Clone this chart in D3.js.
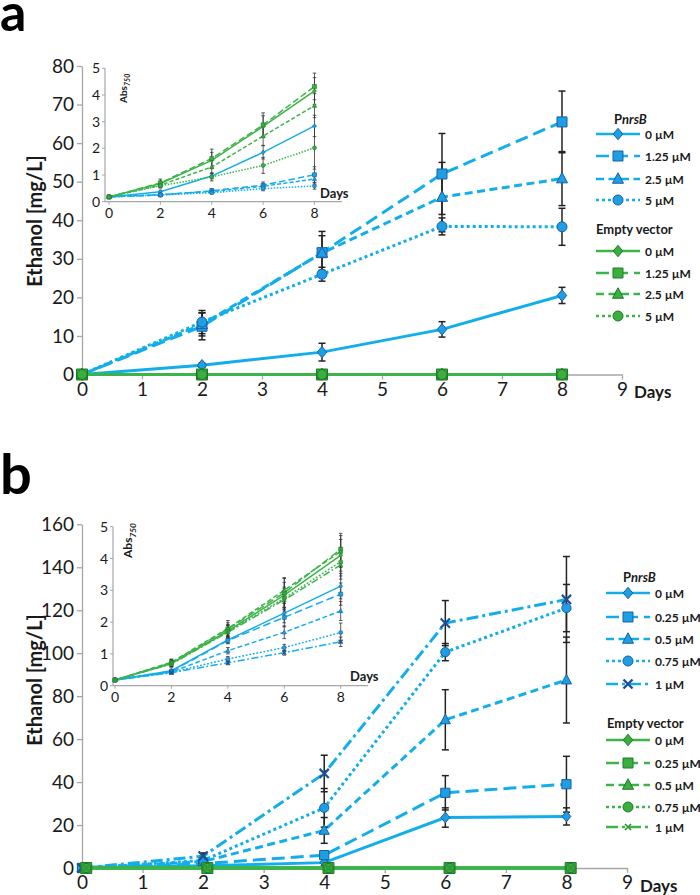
<!DOCTYPE html>
<html><head><meta charset="utf-8">
<script src="https://cdn.jsdelivr.net/npm/d3@7"></script>
<style>body{margin:0;background:#fff;} svg{display:block;font-family:Lato,'Open Sans',sans-serif;}</style>
</head><body><svg id="c" width="700" height="895"></svg>
<script>
// ---------------- DATA ----------------
const days = [0, 2, 4, 6, 8];
const daysEmptyB = [0.07, 2.07, 4.07, 6.07, 8.07];
const xTicksMain = [0, 1, 2, 3, 4, 5, 6, 7, 8, 9];
const xTicksInset = [0, 2, 4, 6, 8];
const yTicksA = [0, 10, 20, 30, 40, 50, 60, 70, 80];
const yTicksB = [0, 20, 40, 60, 80, 100, 120, 140, 160];
const yTicksInset = [0, 1, 2, 3, 4, 5];
const concA = ["0 µM", "1.25 µM", "2.5 µM", "5 µM"];
const concB = ["0 µM", "0.25 µM", "0.5 µM", "0.75 µM", "1 µM"];

// Panel a – ethanol (mg/L)
const ethA_PnrsB = [
  [0, 2.4, 5.8, 11.7, 20.5],
  [0, 12.5, 31.6, 52.0, 65.5],
  [0, 13.0, 31.5, 46.0, 50.8],
  [0, 13.6, 26.0, 38.4, 38.3]
];
const ethA_PnrsB_err = [
  [0, 0.5, 2.3, 2.0, 2.1],
  [0, 3.5, 5.5, 10.5, 8.0],
  [0, 3.0, 4.5, 9.0, 7.0],
  [0, 3.0, 1.8, 2.2, 4.8]
];
const ethA_Empty = [
  [0, 0, 0, 0, 0], [0, 0, 0, 0, 0], [0, 0, 0, 0, 0], [0, 0, 0, 0, 0]
];
// Panel a inset – Abs750
const absA_PnrsB = [
  [0.18, 0.37, 0.96, 1.85, 2.84],
  [0.18, 0.25, 0.41, 0.62, 1.01],
  [0.18, 0.27, 0.38, 0.58, 0.85],
  [0.18, 0.25, 0.34, 0.49, 0.59]
];
const absA_PnrsB_err = [
  [0.03, 0.06, 0.1, 0.25, 0.4],
  [0.03, 0.05, 0.08, 0.12, 0.3],
  [0.03, 0.04, 0.07, 0.1, 0.2],
  [0.03, 0.04, 0.05, 0.08, 0.12]
];
const absA_Empty = [
  [0.18, 0.68, 1.55, 2.82, 4.15],
  [0.18, 0.70, 1.62, 2.88, 4.32],
  [0.18, 0.62, 1.30, 2.46, 3.60],
  [0.18, 0.60, 0.93, 1.36, 2.02]
];
const absA_Empty_err = [
  [0.03, 0.1, 0.3, 0.4, 0.5],
  [0.03, 0.15, 0.35, 0.45, 0.5],
  [0.03, 0.1, 0.25, 0.35, 0.45],
  [0.03, 0.08, 0.15, 0.3, 0.8]
];

// Panel b – ethanol (mg/L)
const ethB_PnrsB = [
  [0, 1.0, 2.5, 23.5, 24.0],
  [0, 2.0, 6.0, 35.0, 39.0],
  [0, 3.0, 17.5, 69.0, 87.5],
  [0, 3.5, 28.0, 100.5, 121.0],
  [0, 5.5, 44.0, 114.0, 125.0]
];
const ethB_PnrsB_err = [
  [0, 0.5, 1.5, 4.5, 4.0],
  [0, 1.0, 2.0, 8.0, 13.0],
  [0, 1.0, 6.0, 14.0, 20.0],
  [0, 1.0, 9.0, 4.0, 11.0],
  [0, 1.5, 8.5, 10.5, 20.0]
];
const ethB_Empty = [
  [0, 0, 0, 0, 0], [0, 0, 0, 0, 0], [0, 0, 0, 0, 0], [0, 0, 0, 0, 0], [0, 0, 0, 0, 0]
];
// Panel b inset – Abs750
const absB_PnrsB = [
  [0.18, 0.47, 1.44, 2.28, 3.13],
  [0.18, 0.45, 1.42, 2.15, 2.88],
  [0.18, 0.43, 1.10, 1.68, 2.35],
  [0.18, 0.42, 0.84, 1.20, 1.67],
  [0.18, 0.41, 0.72, 1.04, 1.38]
];
const absB_PnrsB_err = [
  [0.03, 0.05, 0.1, 0.3, 0.4],
  [0.03, 0.05, 0.1, 0.3, 0.35],
  [0.03, 0.05, 0.1, 0.2, 0.3],
  [0.03, 0.04, 0.08, 0.1, 0.3],
  [0.03, 0.04, 0.06, 0.08, 0.15]
];
const absB_Empty = [
  [0.18, 0.70, 1.72, 2.85, 4.10],
  [0.18, 0.72, 1.78, 2.92, 4.29],
  [0.18, 0.74, 1.80, 3.00, 4.22],
  [0.18, 0.70, 1.70, 2.75, 3.90],
  [0.18, 0.68, 1.68, 2.70, 3.80]
];
const absB_Empty_err = [
  [0.03, 0.1, 0.2, 0.4, 0.5],
  [0.03, 0.1, 0.2, 0.45, 0.5],
  [0.03, 0.1, 0.25, 0.4, 0.5],
  [0.03, 0.1, 0.2, 0.35, 0.45],
  [0.03, 0.1, 0.2, 0.35, 0.45]
];

// ---------------- STYLE ----------------
const BLUE = {line: "#13aeea", fill: "#1e9fe3", stroke: "#1b5fa6", x: "#1d4f96"};
const GREEN = {line: "#3cb44a", fill: "#3aaf40", stroke: "#1f7a28", x: "#2e9a37"};
const dashes = ["", "13,6", "8,4.5", "3,3", "12,4,3,4"];
const shapes = ["diamond", "square", "triangle", "circle", "x"];
const AXIS = "#a6a6a6";
const TXT = "#1a1a1a";

function shapePath(shape, r) {
  switch (shape) {
    case "diamond": return `M0,${-r*1.15}L${r*0.95},0L0,${r*1.15}L${-r*0.95},0Z`;
    case "square": return `M${-r},${-r}H${r}V${r}H${-r}Z`;
    case "triangle": return `M0,${-r*1.25}L${r*1.1},${r*0.85}L${-r*1.1},${r*0.85}Z`;
    case "circle": return `M${r},0A${r},${r} 0 1,1 ${-r},0A${r},${r} 0 1,1 ${r},0Z`;
    case "x": return `M${-r},${-r}L${r},${r}M${r},${-r}L${-r},${r}`;
  }
}
function marker(g, shape, cx, cy, r, pal, sw) {
  const p = g.append("path").attr("d", shapePath(shape, r)).attr("transform", `translate(${cx},${cy})`);
  if (shape === "x") p.attr("fill", "none").attr("stroke", pal.x).attr("stroke-width", sw * 2.2);
  else p.attr("fill", pal.fill).attr("stroke", pal.stroke).attr("stroke-width", sw);
}

const svg = d3.select("#c");

function drawLines(g, sx, sy, xs, vals, pal, dash, lw) {
  const line = d3.line().x((d, i) => sx(xs[i])).y(d => sy(d));
  g.append("path").attr("d", line(vals)).attr("fill", "none")
    .attr("stroke", pal.line).attr("stroke-width", lw).attr("stroke-dasharray", dash || null);
}
function drawErr(g, sx, sy, xs, vals, errs, col, lw, cap) {
  vals.forEach((v, i) => {
    const e = errs[i];
    if (!e) return;
    const x = sx(xs[i]), y1 = sy(v - e), y2 = sy(v + e);
    g.append("line").attr("x1", x).attr("x2", x).attr("y1", y1).attr("y2", y2).attr("stroke", col).attr("stroke-width", lw);
    [y1, y2].forEach(y => g.append("line").attr("x1", x - cap).attr("x2", x + cap).attr("y1", y).attr("y2", y).attr("stroke", col).attr("stroke-width", lw));
  });
}
function drawMarkers(g, sx, sy, xs, vals, shape, r, pal, sw) {
  vals.forEach((v, i) => marker(g, shape, sx(xs[i]), sy(v), r, pal, sw));
}

function mainAxes(g, sx, sy, yTicks, xDomainMax, daysX, daysY) {
  const ya = g.append("g").attr("transform", `translate(${sx(0)},0)`).call(d3.axisLeft(sy).tickValues(yTicks).tickSize(5).tickPadding(3).tickSizeOuter(0));
  ya.select(".domain").attr("stroke", AXIS).attr("stroke-width", 1.3);
  ya.selectAll(".tick line").attr("stroke", AXIS).attr("stroke-width", 1.3);
  ya.selectAll("text").attr("font-size", 19).attr("fill", TXT).attr("font-family", "Lato");
  const xa = g.append("g").attr("transform", `translate(0,${sy(0)})`).call(d3.axisBottom(sx).tickValues(xTicksMain).tickSize(5).tickPadding(3).tickSizeOuter(0));
  xa.select(".domain").attr("stroke", AXIS).attr("stroke-width", 1.3);
  xa.selectAll(".tick line").attr("stroke", AXIS).attr("stroke-width", 1.3);
  xa.selectAll("text").attr("font-size", 19).attr("fill", TXT).attr("font-family", "Lato");
  g.append("text").attr("x", daysX).attr("y", daysY).text("Days").attr("font-size", 17).attr("font-weight", 700).attr("fill", TXT);
}

function insetAxes(g, sx, sy, axisX, axisEnd, daysX, daysY, absX, absY, absSize) {
  g.append("line").attr("x1", axisX).attr("x2", axisX).attr("y1", sy(0)).attr("y2", sy(5)).attr("stroke", AXIS).attr("stroke-width", 1.2);
  g.append("line").attr("x1", axisX).attr("x2", axisEnd).attr("y1", sy(0)).attr("y2", sy(0)).attr("stroke", AXIS).attr("stroke-width", 1.2);
  yTicksInset.forEach(t => {
    g.append("line").attr("x1", axisX - 3).attr("x2", axisX).attr("y1", sy(t)).attr("y2", sy(t)).attr("stroke", AXIS).attr("stroke-width", 1);
    g.append("text").attr("x", axisX - 5).attr("y", sy(t) + 5).attr("text-anchor", "end").text(t).attr("font-size", 14).attr("fill", TXT);
  });
  xTicksInset.forEach(t => {
    g.append("line").attr("x1", sx(t)).attr("x2", sx(t)).attr("y1", sy(0)).attr("y2", sy(0) + 3).attr("stroke", AXIS).attr("stroke-width", 1);
    g.append("text").attr("x", sx(t)).attr("y", sy(0) + 16).attr("text-anchor", "middle").text(t).attr("font-size", 14).attr("fill", TXT);
  });
  g.append("text").attr("x", daysX).attr("y", daysY).text("Days").attr("font-size", 13).attr("font-weight", 700).attr("fill", TXT);
  const t = g.append("text").attr("transform", `translate(${absX},${absY}) rotate(-90)`).attr("font-weight", 700).attr("fill", TXT).attr("font-size", absSize);
  t.append("tspan").text("Abs");
  t.append("tspan").text("750").attr("font-size", absSize * 0.7).attr("font-style", "italic").attr("dy", absSize * 0.3);
}

function yTitle(x, y) {
  svg.append("text").attr("transform", `translate(${x},${y}) rotate(-90)`).attr("text-anchor", "middle")
    .text("Ethanol [mg/L]").attr("font-size", 20).attr("font-weight", 700).attr("fill", TXT);
}

function legend(g, titleY, rowsP, evTitleY, rowsE, conc, lineX1, lineX2, mX, textX, titleX, evX) {
  const t = g.append("text").attr("x", titleX).attr("y", titleY).attr("font-size", 13).attr("font-weight", 700).attr("fill", TXT);
  t.append("tspan").text("P");
  t.append("tspan").text("nrsB").attr("font-style", "italic");
  g.append("text").attr("x", evX).attr("y", evTitleY).text("Empty vector").attr("font-size", 13).attr("font-weight", 700).attr("fill", TXT);
  [[rowsP, BLUE], [rowsE, GREEN]].forEach(([rows, pal]) => {
    rows.forEach((y, i) => {
      g.append("line").attr("x1", lineX1).attr("x2", lineX2).attr("y1", y).attr("y2", y)
        .attr("stroke", pal.line).attr("stroke-width", 2.6).attr("stroke-dasharray", dashes[i] || null);
      const isX = shapes[i] === "x";
      marker(g, shapes[i], mX, y, isX ? (pal === GREEN ? 3 : 4.5) : 5, pal, isX ? (pal === GREEN ? 0.8 : 1.1) : 1);
      g.append("text").attr("x", textX).attr("y", y + 4.5).text(conc[i]).attr("font-size", 12).attr("font-weight", 700).attr("fill", TXT);
    });
  });
}

// ---------------- PANEL A ----------------
svg.append("text").attr("x", 0).attr("y", 31).text("a").attr("font-size", 52).attr("font-weight", 700).attr("fill", "#000");
{
  const g = svg.append("g");
  const sx = d3.scaleLinear().domain([0, 9]).range([82, 622]);
  const sy = d3.scaleLinear().domain([0, 80]).range([374.5, 66]);
  mainAxes(g, sx, sy, yTicksA, 9, 634, 398);
  yTitle(42, 221);
  ethA_PnrsB.forEach((v, i) => drawLines(g, sx, sy, days, v, BLUE, dashes[i], 3));
  ethA_PnrsB.forEach((v, i) => drawErr(g, sx, sy, days, v, ethA_PnrsB_err[i], "#222", 1.5, 3.5));
  ethA_PnrsB.forEach((v, i) => drawMarkers(g, sx, sy, days, v, shapes[i], 5, BLUE, 1));
  ethA_Empty.forEach((v, i) => drawLines(g, sx, sy, days, v, GREEN, "", 3));
  ethA_Empty.forEach((v, i) => drawMarkers(g, sx, sy, days, v, shapes[i], i === 1 ? 5.5 : 5, GREEN, 1));

  const ix = d3.scaleLinear().domain([0, 8]).range([109, 314.5]);
  const iy = d3.scaleLinear().domain([0, 5]).range([201.7, 68.3]);
  insetAxes(g, ix, iy, 105, 342, 320, 198, 127, 103, 10);
  absA_PnrsB.forEach((v, i) => drawLines(g, ix, iy, days, v, BLUE, dashes[i] ? dashes[i].split(",").map(d => d * 0.5).join(",") : "", 1.5));
  absA_Empty.forEach((v, i) => drawLines(g, ix, iy, days, v, GREEN, dashes[i] ? dashes[i].split(",").map(d => d * 0.5).join(",") : "", 1.5));
  absA_PnrsB.forEach((v, i) => drawErr(g, ix, iy, days, v, absA_PnrsB_err[i], "#333", 0.8, 1.8));
  absA_Empty.forEach((v, i) => drawErr(g, ix, iy, days, v, absA_Empty_err[i], "#333", 0.8, 1.8));
  absA_PnrsB.forEach((v, i) => drawMarkers(g, ix, iy, days, v, shapes[i], 2, BLUE, 0.6));
  absA_Empty.forEach((v, i) => drawMarkers(g, ix, iy, days, v, shapes[i], 2, GREEN, 0.6));

  legend(g, 124, [134, 156, 179, 200], 234, [251, 273, 294, 316], concA, 596, 640, 618, 645, 614, 596);
}

// ---------------- PANEL B ----------------
svg.append("text").attr("x", 0).attr("y", 494).text("b").attr("font-size", 56).attr("font-weight", 700).attr("fill", "#000");
{
  const g = svg.append("g");
  const sx = d3.scaleLinear().domain([0, 9]).range([82, 627]);
  const sy = d3.scaleLinear().domain([0, 160]).range([868, 524.3]);
  mainAxes(g, sx, sy, yTicksB, 9, 640, 892);
  yTitle(42, 680);
  ethB_PnrsB.forEach((v, i) => drawLines(g, sx, sy, days, v, BLUE, dashes[i], 3));
  ethB_PnrsB.forEach((v, i) => drawErr(g, sx, sy, days, v, ethB_PnrsB_err[i], "#222", 1.5, 3.5));
  ethB_PnrsB.forEach((v, i) => drawMarkers(g, sx, sy, days, v, shapes[i], 4.6, BLUE, 1));
  ethB_Empty.forEach((v, i) => drawLines(g, sx, sy, daysEmptyB, v, GREEN, "", 3));
  ethB_Empty.forEach((v, i) => drawMarkers(g, sx, sy, daysEmptyB, v, shapes[i], i === 1 ? 5.5 : 4.6, GREEN, 1));

  const ix = d3.scaleLinear().domain([0, 8]).range([115, 340.7]);
  const iy = d3.scaleLinear().domain([0, 5]).range([685.7, 526.7]);
  insetAxes(g, ix, iy, 113, 368, 350, 681, 132, 558, 12);
  absB_PnrsB.forEach((v, i) => drawLines(g, ix, iy, days, v, BLUE, dashes[i] ? dashes[i].split(",").map(d => d * 0.6).join(",") : "", 1.5));
  absB_Empty.forEach((v, i) => drawLines(g, ix, iy, days, v, GREEN, dashes[i] ? dashes[i].split(",").map(d => d * 0.6).join(",") : "", 1.5));
  absB_PnrsB.forEach((v, i) => drawErr(g, ix, iy, days, v, absB_PnrsB_err[i], "#333", 0.8, 1.8));
  absB_Empty.forEach((v, i) => drawErr(g, ix, iy, days, v, absB_Empty_err[i], "#333", 0.8, 1.8));
  absB_PnrsB.forEach((v, i) => drawMarkers(g, ix, iy, days, v, shapes[i], 2, BLUE, 0.6));
  absB_Empty.forEach((v, i) => drawMarkers(g, ix, iy, days, v, shapes[i], 2, GREEN, 0.6));

  legend(g, 582, [593, 617, 639, 661, 684], 728, [740, 763, 785, 807, 827], concB, 606, 650, 628, 655, 623, 607);
}
</script></body></html>
